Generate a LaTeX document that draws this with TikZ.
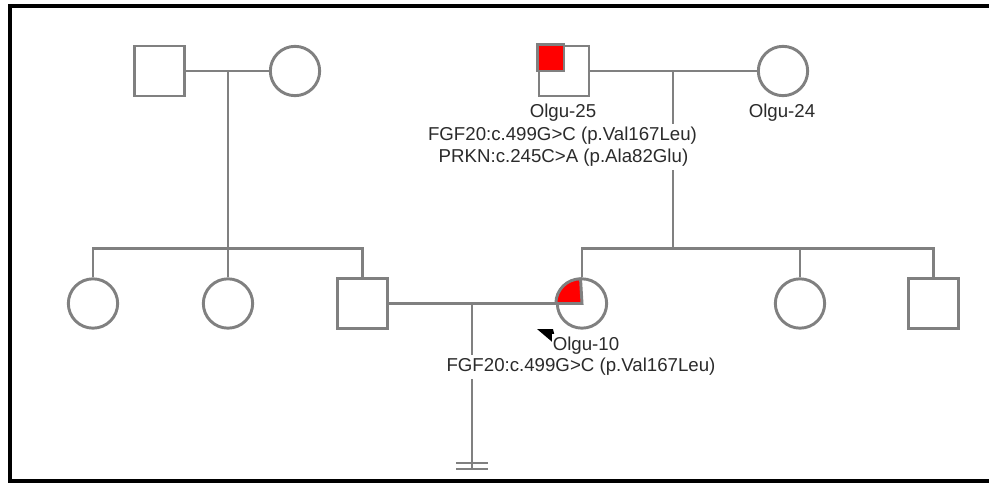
\documentclass[tikz,border=0pt]{standalone}
\usepackage{fontspec}
\setmainfont{Liberation Sans}
\definecolor{pgray}{HTML}{808080}
\definecolor{txt}{HTML}{2B2B2B}
\begin{document}
\begin{tikzpicture}[x=0.75pt,y=-0.75pt,
  line/.style={draw=pgray,line width=2.2pt},
  male/.style={rectangle,draw=pgray,line width=2.2pt,minimum size=37.5pt,inner sep=0pt,fill=white},
  female/.style={circle,draw=pgray,line width=2.2pt,minimum size=37pt,inner sep=0pt,fill=white},
  lbl/.style={font=\fontsize{14}{16.9}\selectfont,text=txt,fill=white,inner sep=0.5pt,minimum height=17.5pt}]
\useasboundingbox (0,0) rectangle (989,483);
\clip (0,0) rectangle (989,483);
% frame
\draw[black,line width=3pt] (980,5.5) -- (9.5,5.5) -- (9.5,480.5) -- (980,480.5);
\fill[black] (980,3.5) rectangle (995,7.5);
\fill[black] (980,478.5) rectangle (995,482.5);

% individuals
\node[male]   (gf)  at (159.5,71) {};
\node[female] (gm)  at (295,71) {};
\node[female] (a1)  at (93,303.5) {};
\node[female] (a2)  at (228,303.5) {};
\node[male]   (f)   at (362.5,303.5) {};
\node[male]   (p25) at (564,71) {};
\node[female] (p24) at (783,71) {};
\node[female] (p10) at (582,303.5) {};
\node[female] (b1)  at (800,303.5) {};
\node[male]   (b2)  at (933.5,303.5) {};

% junctions
\coordinate (j1) at (228,71);
\coordinate (s1) at (228,248.5);
\coordinate (j2) at (673,71);
\coordinate (s2) at (673,248.5);
\coordinate (j3) at (472,303.5);
\coordinate (e3) at (472,469);

% left family
\draw[line] (gf.east) -- (gm.west);
\draw[line] (j1) -- (s1);
\draw[line] (a1.north) -- (a1.north |- s1) -- (f.north |- s1) -- (f.north);
\draw[line] (a2.north) -- (a2.north |- s1);

% right family
\draw[line] (p25.east) -- (p24.west);
\draw[line] (j2) -- (s2);
\draw[line] (p10.north) -- (p10.north |- s2) -- (b2.north |- s2) -- (b2.north);
\draw[line] (b1.north) -- (b1.north |- s2);

% marriage and no offspring
\draw[line] (f.east) -- (p10.west);
\draw[line] (j3) -- (e3);
\draw[draw=pgray,line width=1.6pt] ([xshift=-16*0.75pt]e3) -- ([xshift=16*0.75pt]e3);
\draw[draw=pgray,line width=1.6pt] ([xshift=-16*0.75pt,yshift=6*0.75pt]e3) -- ([xshift=16*0.75pt,yshift=6*0.75pt]e3);

% affected quadrants
\draw[draw=pgray,line width=2.2pt,fill=red] (p25.north west) rectangle (p25.center);
\draw[draw=pgray,line width=2.2pt,fill=red] (p10.center) -- (p10.west) arc[start angle=180,end angle=90,radius=18.5pt] -- cycle;

% proband arrow
\fill[black] (537,329) -- (553,329) -- (557,346) -- cycle;

% labels
\node[lbl] (l25a) at (563,113) {Olgu-25};
\node[lbl] (l25b) at (562.5,135.5) {FGF20:c.499G>C (p.Val167Leu)};
\node[lbl] (l25c) at (563.5,158) {PRKN:c.245C>A (p.Ala82Glu)};
\node[lbl] (l24) at (782,113) {Olgu-24};
\node[lbl] (l10) at (586,346) {Olgu-10};
\node[lbl] (v10) at (581,367) {FGF20:c.499G>C (p.Val167Leu)};
\end{tikzpicture}
\end{document}
